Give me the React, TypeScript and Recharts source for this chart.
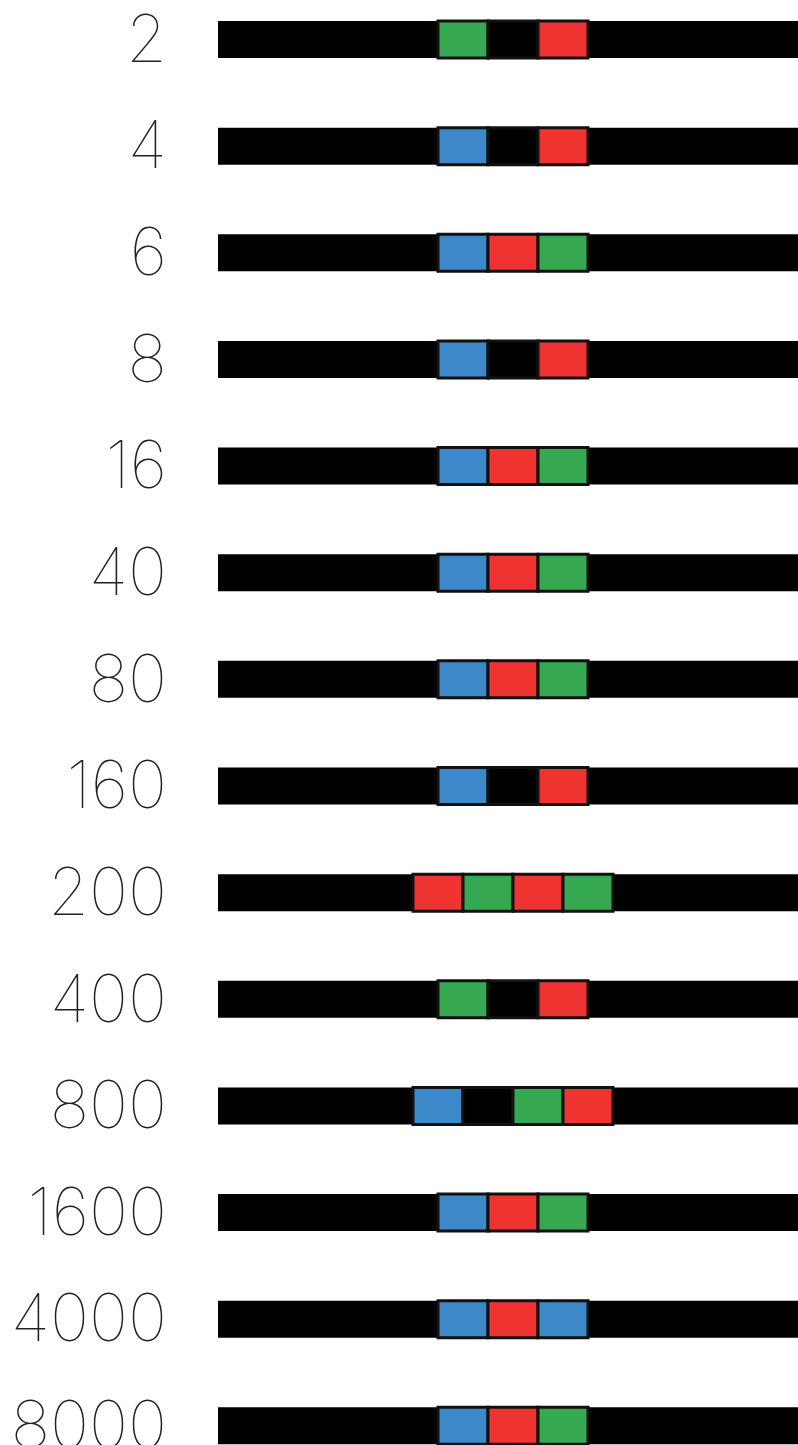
import React from 'react';
import { BarChart, Bar, XAxis, YAxis, Cell } from 'recharts';

const labels = ['2', '4', '6', '8', '16', '40', '80', '160', '200', '400', '800', '1600', '4000', '8000'];
// slot colours per row ('' = no slot, 'K' = empty black slot)
const slotA = ['G', 'B', 'B', 'B', 'B', 'B', 'B', 'B', 'R', 'G', 'B', 'B', 'B', 'B'];
const slotB = ['K', 'K', 'R', 'K', 'R', 'R', 'R', 'K', 'G', 'K', 'K', 'R', 'R', 'R'];
const slotC = ['R', 'R', 'G', 'R', 'G', 'G', 'G', 'R', 'R', 'R', 'G', 'G', 'B', 'G'];
const slotD = ['', '', '', '', '', '', '', '', 'G', '', 'R', '', '', ''];

const COLORS: Record<string, string> = {
  G: '#36a852',
  R: '#ee3330',
  B: '#3d88c9',
  K: '#000000',
  '': 'transparent',
};

const CENTER = 5.9;
const DOMAIN_MAX = 11.6;

const data = labels.map((label, i) => {
  const slots = [slotA[i], slotB[i], slotC[i], slotD[i]];
  const n = slots.filter((s) => s !== '').length;
  return {
    label,
    offset: CENTER - n / 2,
    s0: slots[0] ? 1 : 0,
    s1: slots[1] ? 1 : 0,
    s2: slots[2] ? 1 : 0,
    s3: slots[3] ? 1 : 0,
  };
});

const slotLists = [slotA, slotB, slotC, slotD];

const Tick = (props: any) => {
  const { x, y, payload } = props;
  return (
    <text
      x={x}
      y={y}
      dy="0.34em"
      textAnchor="end"
      fill="#222"
      style={{ fontFamily: 'Inter, "DejaVu Sans", sans-serif', fontWeight: 100, fontSize: 66 }}
    >
      {payload.value}
    </text>
  );
};

export default function App() {
  return (
    <div style={{ position: 'absolute', left: 0, top: 0, width: 798, height: 1445, overflow: 'hidden', background: '#fff' }}>
      <div style={{ position: 'absolute', left: 0, top: -14 }}>
        <BarChart
          width={798}
          height={1493}
          data={data}
          layout="vertical"
          margin={{ top: 0, right: 0, bottom: 0, left: 0 }}
          barSize={37}
        >
          <XAxis type="number" hide domain={[0, DOMAIN_MAX]} allowDataOverflow />
          <YAxis
            type="category"
            dataKey="label"
            width={218}
            axisLine={false}
            tickLine={false}
            tickSize={0}
            tickMargin={51}
            tick={<Tick />}
            interval={0}
          />
          <Bar
            dataKey="offset"
            stackId="s"
            fill="transparent"
            background={{ fill: '#000' }}
            isAnimationActive={false}
          />
          {['s0', 's1', 's2', 's3'].map((key, k) => (
            <Bar key={key} dataKey={key} stackId="s" isAnimationActive={false} stroke="#111" strokeWidth={3}>
              {data.map((_, i) => (
                <Cell
                  key={i}
                  fill={COLORS[slotLists[k][i]]}
                  stroke={slotLists[k][i] ? '#111' : 'none'}
                />
              ))}
            </Bar>
          ))}
        </BarChart>
      </div>
    </div>
  );
}
